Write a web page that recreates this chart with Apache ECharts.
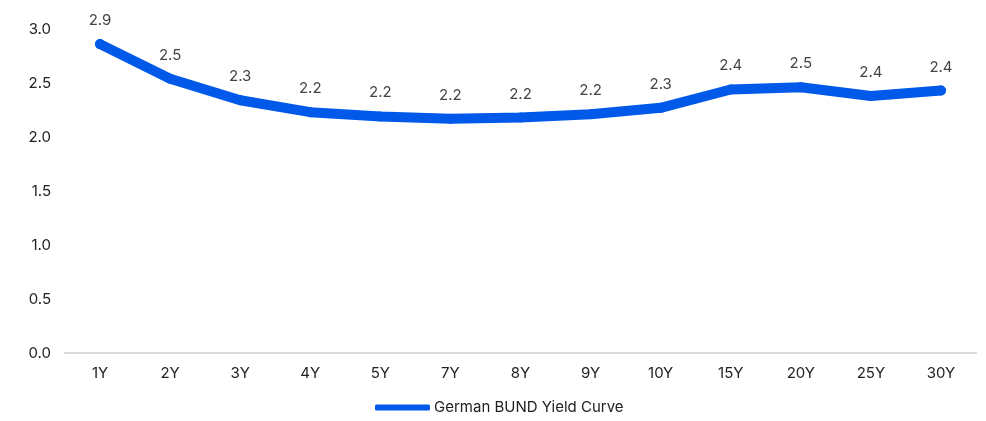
<!DOCTYPE html>
<html>
<head>
<meta charset="utf-8">
<script src="https://cdn.jsdelivr.net/npm/echarts@6/dist/echarts.min.js"></script>
<style>
  html, body { margin: 0; padding: 0; background: #fff; }
  #chart { width: 986px; height: 421px; }
</style>
</head>
<body>
<div id="chart"></div>
<script>
// Bund yield curve by maturity
const maturities = ['1Y', '2Y', '3Y', '4Y', '5Y', '7Y', '8Y', '9Y', '10Y', '15Y', '20Y', '25Y', '30Y'];
const yields = [2.86, 2.54, 2.34, 2.23, 2.19, 2.17, 2.18, 2.21, 2.27, 2.44, 2.46, 2.38, 2.43];
const seriesName = 'German BUND Yield Curve';

const lineColor = '#0059E8';
const fontFamily = 'Inter, "Noto Sans", sans-serif';

const chart = echarts.init(document.getElementById('chart'), null, { renderer: 'canvas' });
chart.setOption({
  animation: false,
  textStyle: { fontFamily: fontFamily },
  grid: { left: 65, right: 10, top: 29, bottom: 68 },
  legend: {
    bottom: 1,
    left: 370,
    itemWidth: 55,
    itemHeight: 6,
    itemGap: 10,
    icon: 'roundRect',
    textStyle: { fontSize: 15, color: '#222', fontFamily: fontFamily, padding: [0, 0, 0, -1] },
    data: [seriesName]
  },
  xAxis: {
    type: 'category',
    data: maturities,
    boundaryGap: true,
    axisLine: { show: true, lineStyle: { color: '#d9d9d9', width: 2 } },
    axisTick: { show: false },
    axisLabel: { color: '#222', fontSize: 15, margin: 13, fontFamily: fontFamily }
  },
  yAxis: {
    type: 'value',
    min: 0,
    max: 3,
    interval: 0.5,
    axisLine: { show: false },
    axisTick: { show: false },
    splitLine: { show: false },
    axisLabel: {
      color: '#222', fontSize: 15, margin: 14, fontFamily: fontFamily,
      formatter: v => v.toFixed(1)
    }
  },
  series: [{
    name: seriesName,
    type: 'line',
    data: yields,
    symbol: 'circle',
    symbolSize: 10,
    showSymbol: true,
    itemStyle: { color: lineColor },
    lineStyle: { color: lineColor, width: 10, cap: 'round', join: 'round' },
    label: {
      show: true,
      position: 'top',
      distance: 11,
      color: '#444',
      fontSize: 15,
      fontFamily: fontFamily,
      formatter: p => p.value.toFixed(1)
    }
  }]
});
</script>
</body>
</html>
